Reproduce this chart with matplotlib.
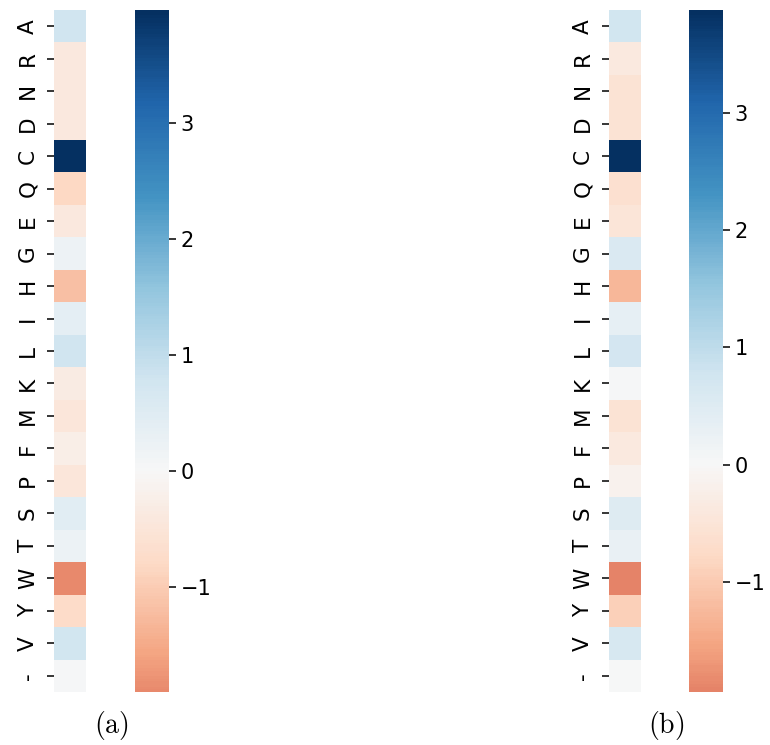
import matplotlib
matplotlib.use("Agg")
import matplotlib.pyplot as plt
import pandas as pd
import seaborn as sns

plt.rcParams['mathtext.fontset'] = 'cm'

residues = ['A', 'R', 'N', 'D', 'C', 'Q', 'E', 'G', 'H', 'I', 'L',
            'K', 'M', 'F', 'P', 'S', 'T', 'W', 'Y', 'V', '-']

# values
vals_a = [0.8, -0.4, -0.4, -0.4, 3.97, -0.8, -0.4, 0.2, -1.2, 0.4, 0.8,
          -0.3, -0.5, -0.25, -0.5, 0.45, 0.25, -1.9, -0.75, 0.75, 0.05]
vals_b = [0.75, -0.35, -0.55, -0.55, 3.88, -0.6, -0.5, 0.6, -1.3, 0.35, 0.7,
          0.05, -0.55, -0.35, -0.15, 0.5, 0.3, -1.94, -0.9, 0.65, 0.0]

panels = [('(a)', vals_a, 54, 135), ('(b)', vals_b, 609, 689)]

W, H = 770, 745
fig = plt.figure(figsize=(W / 100, H / 100), dpi=100)

top, bottom = 10, 692
for name, vals, x_hm, x_cb in panels:
    ax = fig.add_axes([x_hm / W, (H - bottom) / H, 32 / W, (bottom - top) / H])
    cax = fig.add_axes([x_cb / W, (H - bottom) / H, 34 / W, (bottom - top) / H])
    df = pd.DataFrame({'v': vals}, index=residues)
    sns.heatmap(df, ax=ax, cbar_ax=cax, center=0, cmap='RdBu',
                xticklabels=False, yticklabels=residues)
    ax.tick_params(axis='y', labelsize=15.5, length=5, width=1.1,
                   rotation=90, pad=6.5)
    for t in ax.get_yticklabels():
        t.set_verticalalignment('center')
    cax.tick_params(labelsize=15, length=5, width=1.1)
    ax.set_xlabel('')
    ax.set_ylabel('')
    # panel label midway between heatmap and colorbar
    fig.text((x_hm + x_cb + 34) / 2 / W, (H - 725) / H,
             r'$\mathrm{' + name + '}$', fontsize=20, ha='center', va='center')

fig.savefig('out.png', dpi=100)
